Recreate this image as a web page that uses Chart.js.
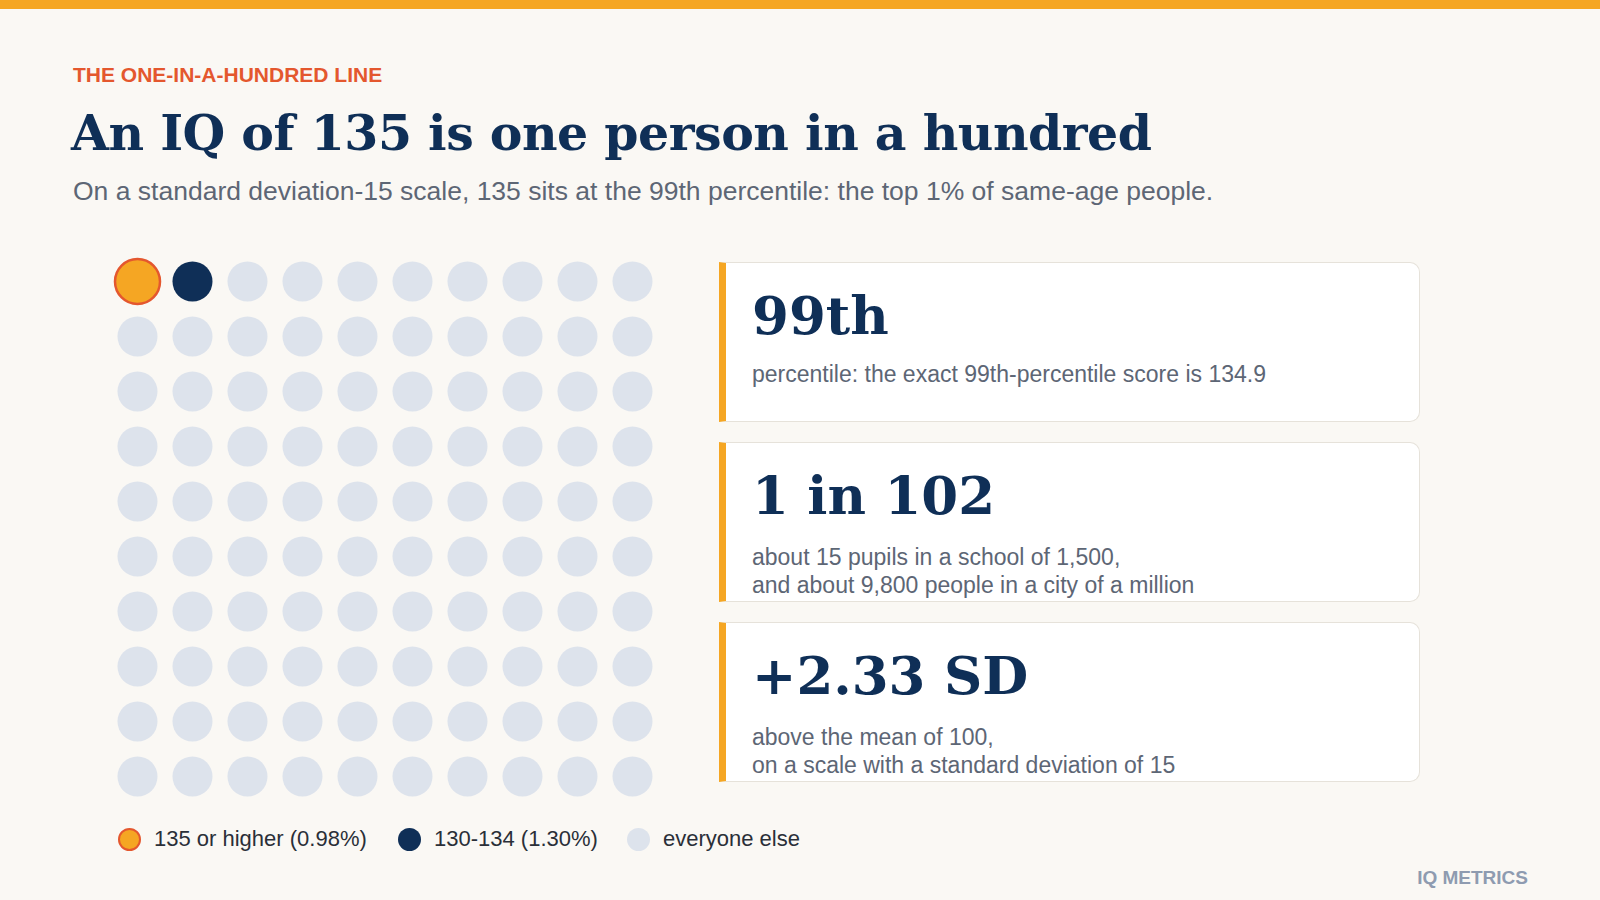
<!DOCTYPE html>
<html><head><meta charset="utf-8">
<script src="https://cdn.jsdelivr.net/npm/chart.js@4.4.0/dist/chart.umd.min.js"></script>
<style>
body{margin:0;width:1600px;height:900px;background:#faf8f4;font-family:"Liberation Sans",Arial,sans-serif;position:relative;overflow:hidden}
.bar{position:absolute;left:0;top:0;width:1600px;height:9px;background:#f5a623}
.kick{position:absolute;left:73px;top:63px;color:#e4572e;font-weight:bold;font-size:21px}
h1{position:absolute;left:71px;top:104px;margin:0;font-family:"DejaVu Serif","Liberation Serif",serif;font-size:49px;color:#0f2f57;font-weight:bold;letter-spacing:-0.5px}
.sub{position:absolute;left:73px;top:176px;font-size:26.5px;color:#5d6675}
#wrap{position:absolute;left:110px;top:254px;width:550px;height:550px}
.card{position:absolute;left:719px;width:701px;height:160px;background:#fff;border:1.5px solid #e6e2da;border-left:7px solid #f5a623;border-radius:0 10px 10px 0;box-sizing:border-box}
.card .big{position:absolute;left:26px;top:20px;font-family:"DejaVu Serif","Liberation Serif",serif;font-weight:bold;font-size:53px;color:#0f2f57;line-height:64px}
.card .txt{position:absolute;left:26px;top:100px;font-size:23px;color:#5d6675;line-height:28px}
.leg{position:absolute;top:826px;font-size:22px;color:#2a2f38;display:flex;align-items:center}
.leg i{display:inline-block;width:23px;height:23px;border-radius:50%;margin-right:13px;box-sizing:border-box}
.brand{position:absolute;right:72px;top:867px;font-size:19px;font-weight:bold;color:#8e9bb0}
</style></head><body>
<div class="bar"></div>
<div class="kick">THE ONE-IN-A-HUNDRED LINE</div>
<h1>An IQ of 135 is one person in a hundred</h1>
<div class="sub">On a standard deviation-15 scale, 135 sits at the 99th percentile: the top 1% of same-age people.</div>
<div id="wrap"><canvas id="c"></canvas></div>
<div class="card" style="top:262px"><div class="big">99th</div><div class="txt" style="top:97px">percentile: the exact 99th-percentile score is 134.9</div></div>
<div class="card" style="top:442px"><div class="big">1 in 102</div><div class="txt">about 15 pupils in a school of 1,500,<br>and about 9,800 people in a city of a million</div></div>
<div class="card" style="top:622px"><div class="big">+2.33 SD</div><div class="txt">above the mean of 100,<br>on a scale with a standard deviation of 15</div></div>
<div class="leg" style="left:118px"><i style="background:#f5a623;border:2px solid #e4572e"></i>135 or higher (0.98%)</div>
<div class="leg" style="left:398px"><i style="background:#0f2f57"></i>130-134 (1.30%)</div>
<div class="leg" style="left:627px"><i style="background:#dde3ec"></i>everyone else</div>
<div class="brand">IQ METRICS</div>
<script>
const categories=["135 or higher (0.98%)","130-134 (1.30%)","everyone else"];
const counts=[1,1,98];
const cols=10;
const pts=[[],[],[]];
let k=0;
counts.forEach((n,g)=>{for(let i=0;i<n;i++){pts[g].push({x:(k%cols)+1,y:Math.floor(k/cols)+1});k++;}});
new Chart(document.getElementById('c'),{type:'scatter',
data:{datasets:[
{label:categories[2],data:pts[2],backgroundColor:'#dde3ec',borderWidth:0,pointRadius:20},
{label:categories[1],data:pts[1],backgroundColor:'#0f2f57',borderWidth:0,pointRadius:20},
{label:categories[0],data:pts[0],backgroundColor:'#f5a623',borderColor:'#e4572e',borderWidth:2.5,pointRadius:22.5}]},
options:{responsive:true,maintainAspectRatio:false,animation:false,layout:{padding:0,autoPadding:false},
plugins:{legend:{display:false},tooltip:{enabled:false}},
scales:{x:{display:false,min:0.5,max:10.5},y:{display:false,min:0.5,max:10.5,reverse:true}}}});
</script>
</body></html>
